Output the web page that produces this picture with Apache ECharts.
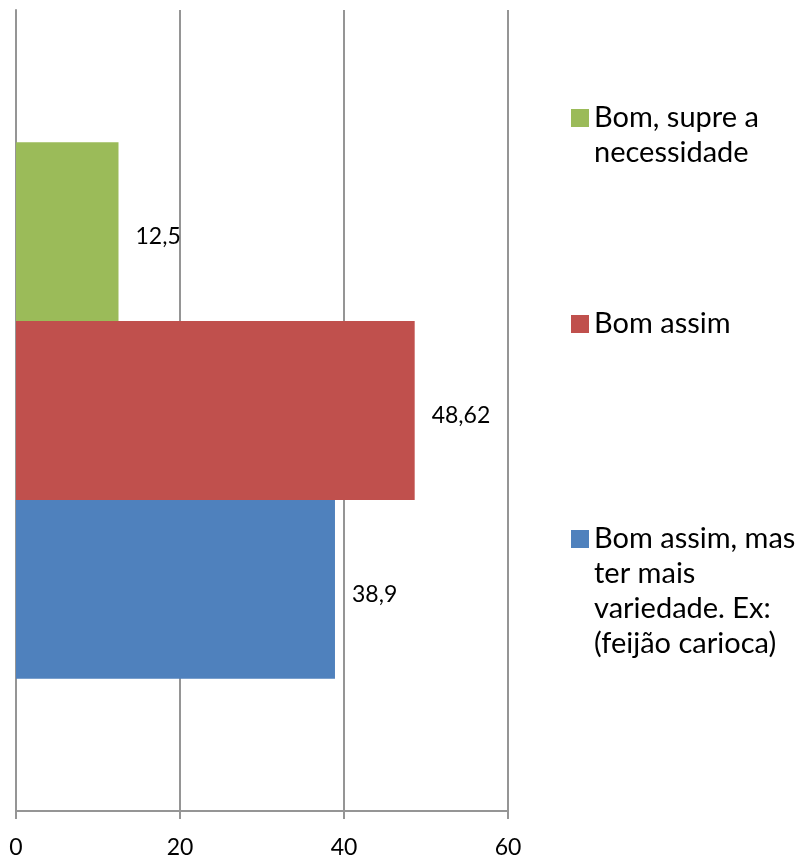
<!DOCTYPE html>
<html lang="pt">
<head>
    <meta charset="UTF-8">
    <title>Gráfico</title>
    <style>
        html, body { margin: 0; padding: 0; background: #fff; }
        #main { width: 808px; height: 859px; }
    </style>
    <script src="https://cdn.jsdelivr.net/npm/echarts@6/dist/echarts.min.js"></script>
</head>
<body>
<div id="main"></div>
<script>
// dados (de cima para baixo)
var categories = ['Opinião'];
var seriesNames = [
    'Bom, supre a necessidade',
    'Bom assim',
    'Bom assim, mas ter mais variedade. Ex: (feijão carioca)'
];
var seriesValues = [12.5, 48.62, 38.9];
var seriesColors = ['#9bbb59', '#c0504d', '#4f81bd'];
var xTicks = [0, 20, 40, 60];

// texto da legenda quebrado em linhas
var legendLines = {
    'Bom, supre a necessidade': ['Bom, supre a', 'necessidade'],
    'Bom assim': ['Bom assim'],
    'Bom assim, mas ter mais variedade. Ex: (feijão carioca)': ['Bom assim, mas', 'ter mais', 'variedade. Ex:', '(feijão carioca)']
};

var LH = 35;       // altura da linha da legenda
var FONT = 'Lato, "Open Sans", sans-serif';
var gray = '#959595';

// o texto fica centrado no ícone; linhas vazias em cima alinham a 1a linha com o ícone
function makeLegend(name, iconCenter) {
    var n = legendLines[name].length;
    var boxH = (2 * n - 1) * LH;
    return {
        data: [name],
        orient: 'vertical',
        left: 571,
        top: iconCenter - boxH / 2,
        padding: 0,
        itemWidth: 18,
        itemHeight: 18,
        itemGap: 0,
        icon: 'rect',
        selectedMode: false,
        formatter: function (nm) {
            var lines = legendLines[nm];
            var pad = [];
            for (var i = 1; i < lines.length; i++) pad.push('');
            return pad.concat(lines).join('\n');
        },
        textStyle: {
            fontFamily: FONT,
            fontSize: 29,
            color: '#000',
            lineHeight: LH
        }
    };
}

var chart = echarts.init(document.getElementById('main'));

var series = seriesNames.map(function (nm, i) {
    return {
        name: nm,
        type: 'bar',
        data: [seriesValues[i]],
        barGap: '0%',
        barCategoryGap: '33%',
        itemStyle: { color: seriesColors[i] },
        label: {
            show: true,
            position: 'right',
            distance: 17,
            offset: [0, 5],
            color: '#000',
            fontFamily: FONT,
            fontSize: 23,
            formatter: function (p) { return String(p.value).replace('.', ','); }
        }
    };
});

var option = {
    backgroundColor: '#fff',
    animation: false,
    grid: { left: 16, right: 300, top: 10, bottom: 47, containLabel: false },
    legend: [
        makeLegend(seriesNames[0], 118),
        makeLegend(seriesNames[1], 324),
        makeLegend(seriesNames[2], 539)
    ],
    xAxis: {
        type: 'value',
        min: xTicks[0],
        max: xTicks[xTicks.length - 1],
        interval: 20,
        axisLine: { show: true, lineStyle: { color: gray, width: 2 } },
        axisTick: { show: true, length: 8, inside: false, lineStyle: { color: gray, width: 2 } },
        splitLine: { show: true, lineStyle: { color: gray, width: 2 } },
        axisLabel: {
            color: '#000',
            fontFamily: FONT,
            fontSize: 23,
            margin: 25
        }
    },
    yAxis: {
        type: 'category',
        data: categories,
        axisLine: { show: true, lineStyle: { color: gray, width: 2 } },
        axisTick: { show: false },
        axisLabel: { show: false }
    },
    series: series
};

chart.setOption(option);
</script>
</body>
</html>
